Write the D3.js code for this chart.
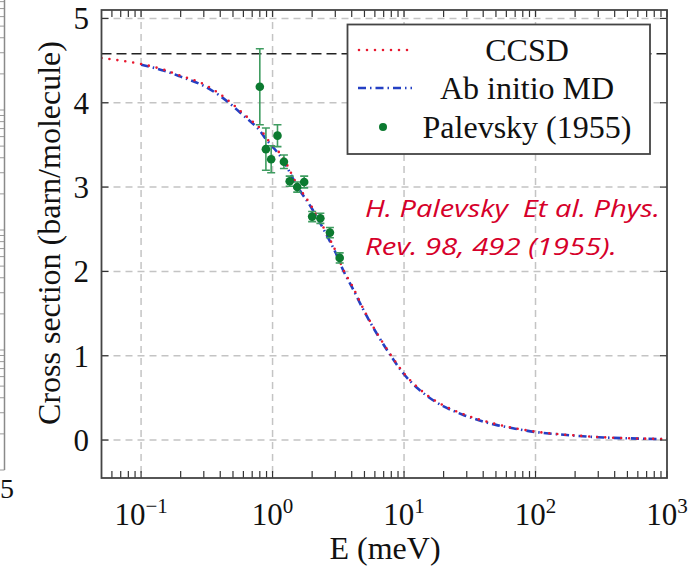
<!doctype html>
<html lang="en">
<head>
<meta charset="utf-8">
<script src="https://cdn.jsdelivr.net/npm/d3@7"></script>
<style type="text/css">
body { margin: 0; background: #fff; }
svg { display: block; }
text { font-family: "Liberation Serif", "DejaVu Serif", serif; fill: #111; }
.note { font-family: "Open Sans", "Liberation Sans", sans-serif; font-style: italic; fill: #d6002a; }
</style>
</head>
<body>
<svg width="699" height="566"></svg>
<script>
// CCSD model curve
var ccsdE = [0.05, 0.07, 0.1, 0.15, 0.2, 0.3, 0.4, 0.5, 0.6, 0.7, 0.8, 0.9, 1.0, 1.2, 1.5, 2, 2.5, 3, 3.5, 4, 5, 6.5, 8, 10, 13, 16, 20, 28, 40, 50, 70, 100, 150, 200, 300, 500, 700, 1000];
var ccsdS = [4.53, 4.50, 4.46, 4.39, 4.32, 4.22, 4.10, 3.98, 3.87, 3.78, 3.70, 3.58, 3.50, 3.35, 3.06, 2.76, 2.49, 2.25, 2.00, 1.84, 1.53, 1.22, 1.00, 0.79, 0.61, 0.50, 0.41, 0.31, 0.23, 0.19, 0.14, 0.10, 0.07, 0.055, 0.036, 0.022, 0.016, 0.012];

// Ab initio MD curve
var mdE = [0.1, 0.15, 0.2, 0.3, 0.4, 0.5, 0.6, 0.7, 0.8, 0.9, 1.0, 1.2, 1.5, 2, 2.5, 3, 3.5, 4, 5, 6.5, 8, 10, 13, 16, 20, 28, 40, 50, 70, 100, 150, 200, 300, 500, 700, 1000];
var mdS = [4.45, 4.38, 4.31, 4.20, 4.08, 3.96, 3.85, 3.76, 3.67, 3.56, 3.48, 3.32, 3.04, 2.74, 2.47, 2.23, 1.99, 1.82, 1.52, 1.21, 0.99, 0.78, 0.60, 0.49, 0.40, 0.30, 0.22, 0.18, 0.135, 0.095, 0.068, 0.052, 0.034, 0.021, 0.015, 0.011];

// Palevsky (1955) measurements
var expE = [0.80, 0.89, 0.976, 1.09, 1.22, 1.35, 1.54, 1.74, 2.0, 2.31, 2.73, 3.24];
var expS = [4.19, 3.45, 3.33, 3.61, 3.30, 3.07, 3.00, 3.06, 2.65, 2.63, 2.46, 2.16];
var expErr = [0.45, 0.25, 0.16, 0.13, 0.08, 0.06, 0.06, 0.07, 0.06, 0.06, 0.06, 0.06];

var freeLimit = 4.58;

var xTicks = [0.1, 1, 10, 100, 1000];
var yTicks = [0, 1, 2, 3, 4, 5];
var legendLabels = ["CCSD", "Ab initio MD", "Palevsky (1955)"];

var red = "#e8182f", blue = "#2440c4", green = "#0c7a30", barGreen = "#3f9c60";

var L = 101.5, R = 667, T = 10, B = 478;
var svg = d3.select("svg");

var x = d3.scaleLog().domain([0.05, 1000]).range([L, R]);
var y = d3.scaleLinear().domain([-0.45, 5.1]).range([B, T]);

// piece of the neighbouring figure at the left edge
var side = svg.append("g");
var sideY = d3.scaleLog().domain([1, 1e4]).range([470, -10]);
var sideTicks = [];
[1, 10, 100, 1000].forEach(function(d) {
    for (var k = 1; k < 10; k++) sideTicks.push(d * k);
});
side.selectAll("line.st").data(sideTicks).enter().append("line")
    .attr("x1", 0).attr("x2", 4.5)
    .attr("y1", function(d) { return sideY(d); })
    .attr("y2", function(d) { return sideY(d); })
    .attr("stroke", "#9a9a9a").attr("stroke-width", 1);
side.append("line").attr("x1", 4.5).attr("x2", 4.5).attr("y1", 0).attr("y2", 470)
    .attr("stroke", "#8a8a8a").attr("stroke-width", 1.5);
side.append("text").attr("x", 0).attr("y", 498).attr("text-anchor", "start")
    .style("font-size", "28px").text("5");

// grid
var grid = svg.append("g");
grid.selectAll("line.gx").data(xTicks.slice(0, 4)).enter().append("line")
    .attr("x1", function(d) { return x(d); }).attr("x2", function(d) { return x(d); })
    .attr("y1", T).attr("y2", B)
    .attr("stroke", "#c4c4c4").attr("stroke-width", 1.5).attr("stroke-dasharray", "7,5");
grid.selectAll("line.gy").data(yTicks).enter().append("line")
    .attr("x1", L).attr("x2", R)
    .attr("y1", function(d) { return y(d); }).attr("y2", function(d) { return y(d); })
    .attr("stroke", "#c4c4c4").attr("stroke-width", 1.5).attr("stroke-dasharray", "7,5");

svg.append("clipPath").attr("id", "plot").append("rect")
    .attr("x", L).attr("y", T).attr("width", R - L).attr("height", B - T);
var plot = svg.append("g").attr("clip-path", "url(#plot)");

// free-molecule limit
plot.append("line").attr("x1", L).attr("x2", R)
    .attr("y1", y(freeLimit)).attr("y2", y(freeLimit))
    .attr("stroke", "#222").attr("stroke-width", 1.5).attr("stroke-dasharray", "10,5");

var line = d3.line().curve(d3.curveMonotoneX)
    .x(function(d) { return x(d[0]); }).y(function(d) { return y(d[1]); });

plot.append("path").datum(d3.zip(mdE, mdS))
    .attr("d", line).attr("fill", "none").attr("stroke", blue)
    .attr("stroke-width", 2.6).attr("stroke-dasharray", "8,4,1.5,4");
plot.append("path").datum(d3.zip(ccsdE, ccsdS))
    .attr("d", line).attr("fill", "none").attr("stroke", red)
    .attr("stroke-width", 2.6).attr("stroke-linecap", "round").attr("stroke-dasharray", "0,8");

// measurements with error bars
var pts = d3.range(expE.length).map(function(i) { return {e: expE[i], s: expS[i], err: expErr[i]}; });
var eb = plot.selectAll("g.eb").data(pts).enter().append("g")
    .attr("stroke", barGreen).attr("stroke-width", 1.6);
eb.append("line")
    .attr("x1", function(d) { return x(d.e); }).attr("x2", function(d) { return x(d.e); })
    .attr("y1", function(d) { return y(d.s + d.err); }).attr("y2", function(d) { return y(d.s - d.err); });
[1, -1].forEach(function(sgn) {
    eb.append("line")
        .attr("x1", function(d) { return x(d.e) - 4; }).attr("x2", function(d) { return x(d.e) + 4; })
        .attr("y1", function(d) { return y(d.s + sgn * d.err); })
        .attr("y2", function(d) { return y(d.s + sgn * d.err); });
});
plot.selectAll("circle.pt").data(pts).enter().append("circle")
    .attr("cx", function(d) { return x(d.e); }).attr("cy", function(d) { return y(d.s); })
    .attr("r", 4.3).attr("fill", green);

// ticks (inward, all four sides)
var minor = [];
[0.01, 0.1, 1, 10, 100].forEach(function(d) {
    for (var k = 2; k < 10; k++) if (d * k > 0.05 && d * k < 1000) minor.push(d * k);
});
var ticks = svg.append("g").attr("stroke", "#333").attr("stroke-width", 1.2);
[B, T].forEach(function(yy) {
    var dir = yy === B ? -1 : 1;
    ticks.selectAll(null).data(xTicks.concat(minor)).enter().append("line")
        .attr("x1", function(d) { return x(d); }).attr("x2", function(d) { return x(d); })
        .attr("y1", yy).attr("y2", yy + dir * 7);
});
[L, R].forEach(function(xx) {
    var dir = xx === L ? 1 : -1;
    ticks.selectAll(null).data(yTicks).enter().append("line")
        .attr("x1", xx).attr("x2", xx + dir * 7)
        .attr("y1", function(d) { return y(d); }).attr("y2", function(d) { return y(d); });
});

// frame
svg.append("rect").attr("x", L).attr("y", T).attr("width", R - L).attr("height", B - T)
    .attr("fill", "none").attr("stroke", "#444").attr("stroke-width", 1.8);

// tick labels
svg.selectAll("text.yt").data(yTicks).enter().append("text")
    .attr("x", 89).attr("y", function(d) { return y(d) + 11; })
    .attr("text-anchor", "end").style("font-size", "31px")
    .text(function(d) { return d; });

var xt = svg.selectAll("text.xt").data(xTicks).enter().append("text")
    .attr("x", function(d) { return x(d); }).attr("y", 525)
    .attr("text-anchor", "middle").style("font-size", "31px");
xt.append("tspan").text("10");
xt.append("tspan").attr("dy", -12).style("font-size", "21px")
    .text(function(d) { var p = Math.round(Math.log10(d)); return p < 0 ? "\u2212" + (-p) : p; });

// axis titles
svg.append("text").attr("x", 385).attr("y", 559).attr("text-anchor", "middle")
    .style("font-size", "32px").text("E (meV)");
svg.append("text").attr("transform", "translate(60,233) rotate(-90)")
    .attr("text-anchor", "middle").style("font-size", "32px")
    .text("Cross section (barn/molecule)");

// legend
var lg = svg.append("g");
lg.append("rect").attr("x", 347.5).attr("y", 24.5).attr("width", 302.5).attr("height", 129.5)
    .attr("fill", "#fff").attr("stroke", "#444").attr("stroke-width", 1.8);
var rowY = [50, 88, 127];
lg.append("line").attr("x1", 359).attr("x2", 411).attr("y1", rowY[0]).attr("y2", rowY[0])
    .attr("stroke", red).attr("stroke-width", 2.6).attr("stroke-linecap", "round").attr("stroke-dasharray", "0,8");
lg.append("line").attr("x1", 358).attr("x2", 412).attr("y1", rowY[1]).attr("y2", rowY[1])
    .attr("stroke", blue).attr("stroke-width", 2.6).attr("stroke-dasharray", "8,4,1.5,4");
lg.append("circle").attr("cx", 383).attr("cy", rowY[2]).attr("r", 4).attr("fill", green);
lg.selectAll("text.lg").data(legendLabels).enter().append("text")
    .attr("x", 527).attr("y", function(d, i) { return rowY[i] + 11; })
    .attr("text-anchor", "middle").style("font-size", "32px")
    .text(function(d) { return d; });

// citation note
var notes = ["H. Palevsky  Et al. Phys.", "Rev. 98, 492 (1955)."];
var noteW = [295, 252];
svg.selectAll("text.note").data(notes).enter().append("text")
    .attr("class", "note").attr("x", 365).attr("y", function(d, i) { return 217 + i * 38; })
    .attr("textLength", function(d, i) { return noteW[i]; }).attr("lengthAdjust", "spacingAndGlyphs")
    .style("font-size", "23px").style("white-space", "pre")
    .text(function(d) { return d; });
</script>
</body>
</html>
